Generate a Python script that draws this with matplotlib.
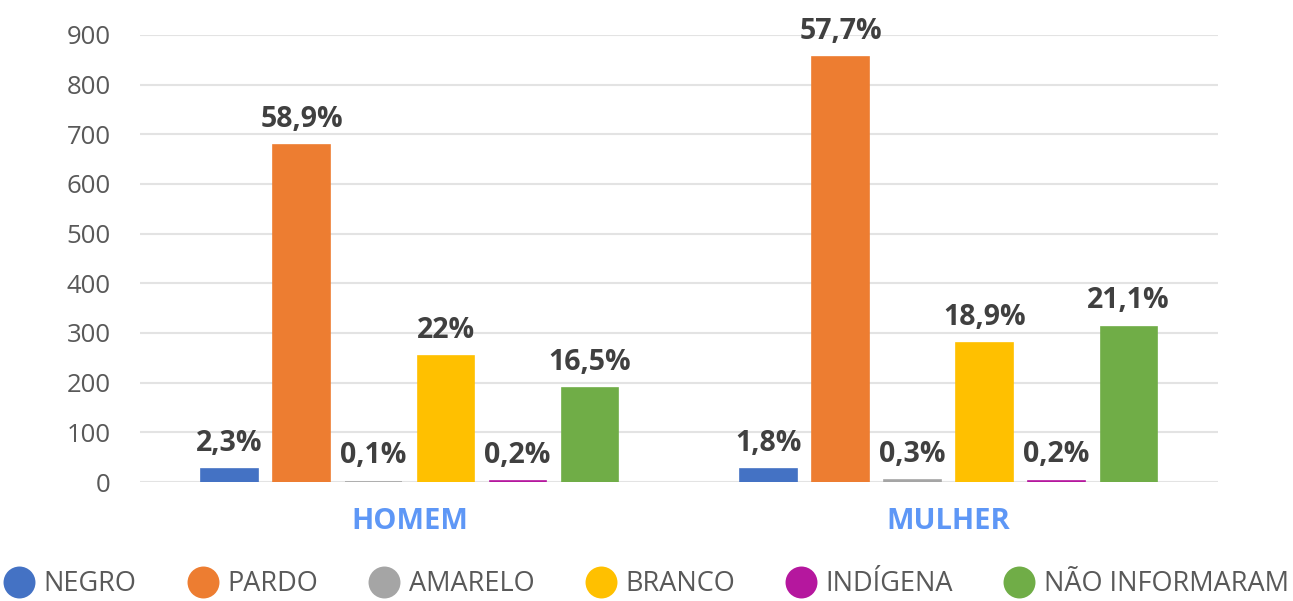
import matplotlib.pyplot as plt
from matplotlib.lines import Line2D
import numpy as np

plt.rcParams["font.family"] = ["Open Sans", "DejaVu Sans"]

groups = ["HOMEM", "MULHER"]
series = ["NEGRO", "PARDO", "AMARELO", "BRANCO", "INDÍGENA", "NÃO INFORMARAM"]
colors = ["#4472C4", "#ED7D31", "#A5A5A5", "#FFC000", "#B5179E", "#70AD47"]

values = {
    "NEGRO":          [26, 27],
    "PARDO":          [678, 856],
    "AMARELO":        [1, 4],
    "BRANCO":         [253, 280],
    "INDÍGENA":       [2, 3],
    "NÃO INFORMARAM": [190, 313],
}
pct_labels = {
    "NEGRO":          ["2,3%", "1,8%"],
    "PARDO":          ["58,9%", "57,7%"],
    "AMARELO":        ["0,1%", "0,3%"],
    "BRANCO":         ["22%", "18,9%"],
    "INDÍGENA":       ["0,2%", "0,2%"],
    "NÃO INFORMARAM": ["16,5%", "21,1%"],
}

fig = plt.figure(figsize=(12.93, 6.01), dpi=100)
ax = fig.add_axes([0.1083, 0.198, 0.8337, 0.7438])

x = np.arange(len(groups))
step = 0.1336
width = 0.104

for i, (name, col) in enumerate(zip(series, colors)):
    xs = x + (i - 2.5) * step
    ax.bar(xs, values[name], width=width, color=col, edgecolor=col,
           linewidth=1.2, zorder=3)
    for xi, v, lab in zip(xs, values[name], pct_labels[name]):
        ax.annotate(lab, xy=(xi, v), xytext=(0, 13), textcoords="offset points",
                    ha="center", va="baseline", fontsize=20.5, fontweight="bold",
                    color="#404040", annotation_clip=False)

ax.set_xlim(-0.5, 1.5)
ax.set_ylim(0, 900)
ax.set_yticks(range(0, 901, 100))
ax.set_xticks(x)
ax.set_xticklabels(groups, fontsize=21, fontweight="bold", color="#5E97F6")
ax.tick_params(axis="x", length=0, pad=18)
ax.tick_params(axis="y", length=0, pad=21, labelsize=18.5, labelcolor="#595959")
ax.grid(axis="y", color="#E3E3E3", lw=1.5, zorder=0)
for s in ax.spines.values():
    s.set_visible(False)

# legend sits at the very bottom edge, as in the source chart
handles = [Line2D([], [], marker="o", ls="", markersize=23, color=c,
                  markeredgewidth=0) for c in colors]
fig.legend(handles, series, loc="center", bbox_to_anchor=(0.5, 1 - 584 / 601),
           ncol=6, frameon=False, fontsize=19.5, labelcolor="#595959",
           columnspacing=1.9, handletextpad=0.35, handlelength=1.1)

fig.savefig("out.png", dpi=100)
